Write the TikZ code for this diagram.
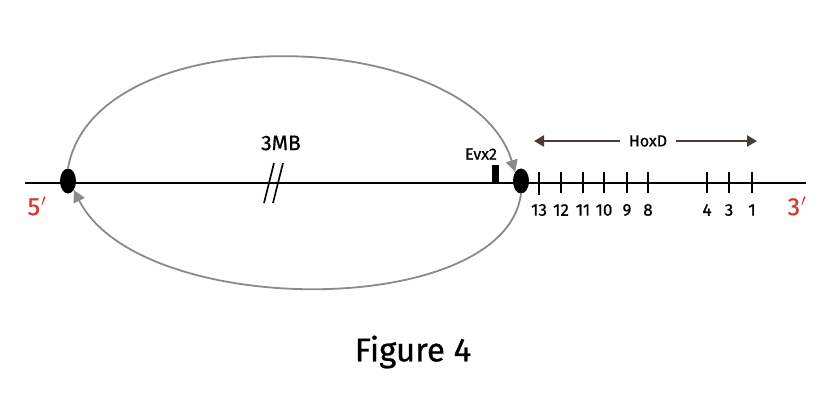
\documentclass[tikz,border=0pt]{standalone}
\usepackage{fontspec}
\setmainfont{Fira Sans}[FakeBold=0.7,UprightFeatures={FakeBold=0.7}]
\usetikzlibrary{arrows.meta,positioning,shapes.geometric}
\definecolor{loopgray}{HTML}{8A8A8A}
\definecolor{primered}{HTML}{D63A2A}
\definecolor{hoxbrown}{HTML}{4B3B37}
\begin{document}
\begin{tikzpicture}[x=1pt,y=-1pt,every node/.style={inner sep=0pt},knot/.style={ellipse,fill=black,minimum width=16pt,minimum height=25pt},loop/.style={-{Triangle[length=12pt,width=12pt]},line width=1.8pt,draw=loopgray},genetick/.style={line width=1.6pt},span/.style={-{Triangle[length=10pt,width=11pt]},line width=2.3pt,draw=hoxbrown},prime/.style={text=primered,font=\fontsize{25}{25}\selectfont}]
\useasboundingbox (0,0) rectangle (826,415);
\coordinate (chrL) at (25,183);
\coordinate (chrR) at (806,183);
\draw[line width=1.8pt] (chrL) -- (chrR);
% break mark
\draw[line width=1.6pt] (264,203) -- (274,163) (273,203) -- (283,163);
\node[font=\fontsize{21}{21}\selectfont] (dist) at (281,143) {3MB};
% anchor points
\node[knot] (left) at (68,181) {};
\node[knot] (right) at (521,181) {};
\node[prime] (five) at (37,206) {5\kern1pt$'$};
\node[prime] (three) at (797,206) {3\kern1pt$'$};
% Evx2
\fill (492,165) rectangle (499,183);
\node[font=\fontsize{16}{16}\selectfont] (evx) at (481,154) {Evx2};
% HoxD genes
\foreach \x/\g in {539/13,561/12,583/11,604/10,627/9,648/8,707/4,729/3,752/1}
  {\draw[genetick] (\x,172) -- (\x,193);
   \node[font=\fontsize{17}{17}\selectfont] (g\g) at (\x,210) {\g};}
\draw[genetick] (539,193) -- (539,195);
\node[font=\fontsize{16}{16}\selectfont] (hox) at (648,141) {HoxD};
\coordinate (hoxstart) at (534,141);
\coordinate (hoxend) at (757,141);
\draw[span] (hox.west) ++(-9pt,0) -- (hoxstart);
\draw[span] (hox.east) ++(9pt,0) -- (hoxend);
% looping
\draw[loop] (left.north) .. controls (95,15) and (470,25) .. (right.north west);
\draw[loop] (right.south) .. controls (505,320) and (140,320) .. (left.south east);
\node[font=\fontsize{33}{33}\selectfont] (cap) at (413,352) {Figure 4};
\end{tikzpicture}
\end{document}
